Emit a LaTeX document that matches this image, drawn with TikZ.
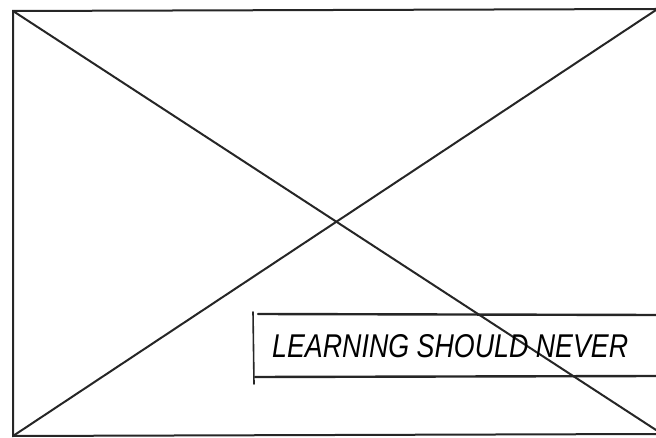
\documentclass[tikz,border=0pt]{standalone}
\usepackage{fontspec}
\setmainfont{Liberation Sans}
\begin{document}
\begin{tikzpicture}[x=1pt,y=-1pt,
  sketch/.style={draw=black!85,line width=2pt,line cap=round},
  label/.style={inner sep=0pt,anchor=west,text=black}]
\useasboundingbox (0,0) rectangle (656,438);
\coordinate (tl) at (13,11);
\coordinate (tr) at (656,9);
\coordinate (bl) at (13,436);
\coordinate (br) at (656,434);
\coordinate (trd) at (656,10);
\coordinate (brd) at (656,430);
% frame
\draw[sketch] (tr) -- (tl) -- (bl) -- (br);
% diagonals
\draw[sketch] (tl) -- (brd);
\draw[sketch] (bl) -- (trd);
% text box
\coordinate (bxtl) at (258,314);
\coordinate (bxtr) at (656,315);
\coordinate (bxbl) at (255,377);
\coordinate (bxbr) at (656,376);
\coordinate (bxl1) at (253,312);
\coordinate (bxl2) at (254,384);
\draw[sketch,line width=2.4pt] (bxtl) -- (bxtr);
\draw[sketch,line width=2.4pt] (bxbl) -- (bxbr);
\draw[sketch,line width=1.6pt] (bxl1) -- (bxl2);
\node[label] (t) at (272,346) {\resizebox{356pt}{23pt}{\itshape LEARNING SHOULD NEVER}};
\end{tikzpicture}
\end{document}
